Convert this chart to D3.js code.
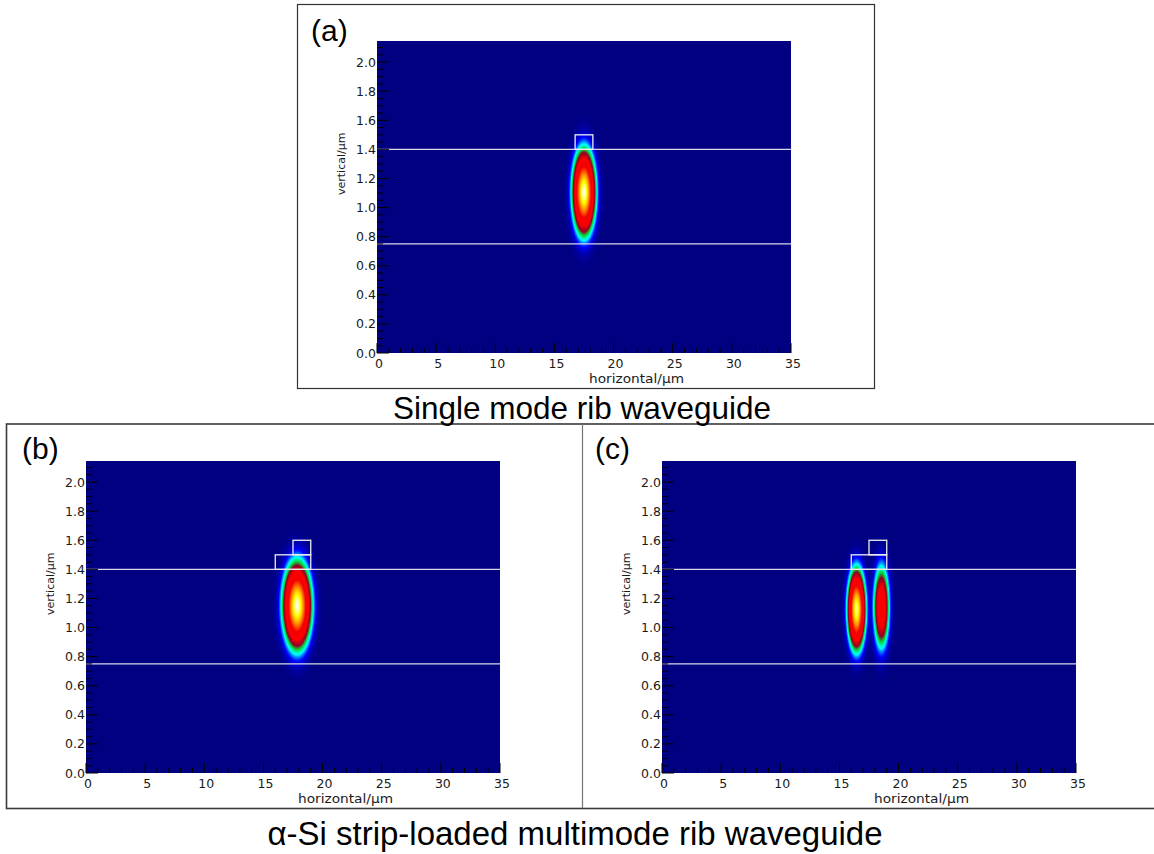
<!DOCTYPE html>
<html>
<head>
<meta charset="utf-8">
<script src="https://cdn.jsdelivr.net/npm/d3@7"></script>
<style>
  body { margin: 0; background: #fff; }
  svg { display: block; }
</style>
</head>
<body>
<svg id="fig" width="1154" height="854"></svg>
<script>
// ---- axis definitions (µm) ----
const xDomain = [0, 35];
const yDomain = [0, 2.145];
const xMajorTicks = [0, 5, 10, 15, 20, 25, 30, 35];
const yMajorTicks = [0, 0.2, 0.4, 0.6, 0.8, 1.0, 1.2, 1.4, 1.6, 1.8, 2.0];
const xTickLabels = ["0", "5", "10", "15", "20", "25", "30", "35"];
const yTickLabels = ["0.0", "0.2", "0.4", "0.6", "0.8", "1.0", "1.2", "1.4", "1.6", "1.8", "2.0"];

// ---- layer interfaces (vertical position, µm) ----
const layerLines = [0.75, 1.4];

// ---- waveguide outlines: [xLeft, xRight, yBottom, yTop] (µm) ----
const ribSingle = [[16.75, 18.25, 1.4, 1.5]];
const ribStripB = [[16.0, 19.0, 1.4, 1.5], [17.5, 19.0, 1.5, 1.6]];
const ribStripC = [[16.0, 19.0, 1.4, 1.5], [17.5, 19.0, 1.5, 1.6]];

// ---- mode intensity lobes: [xCentre, yCentre, xWidth, yWidth, peak] ----
const modeA = [[17.5, 1.105, 0.47, 0.14, 1.0]];
const modeB = [[17.85, 1.15, 0.58, 0.142, 1.0]];
const modeC = [[16.45, 1.125, 0.37, 0.133, 0.95], [18.55, 1.14, 0.35, 0.148, 0.38]];

// ---- colour map (normalised intensity -> colour) ----
const cmapStops  = [0, 0.025, 0.06, 0.10, 0.15, 0.25, 0.45, 0.68, 0.88, 1.0];
const cmapColors = ["#000080", "#0000ff", "#00ffff", "#00e040", "#900024", "#ff0000", "#f20000", "#ff9000", "#ffff00", "#ffffe0"];

// ---- panel layout ----
const panels = [
  { id: "a", left: 377, top: 41,  width: 414, height: 312, rib: ribSingle, mode: modeA, label: "(a)", lx: 311, ly: 41 },
  { id: "b", left: 86,  top: 461, width: 414, height: 312, rib: ribStripB, mode: modeB, label: "(b)", lx: 22,  ly: 459 },
  { id: "c", left: 662, top: 461, width: 414, height: 312, rib: ribStripC, mode: modeC, label: "(c)", lx: 595, ly: 459 }
];

const svg = d3.select("#fig");
const color = d3.scaleLinear().domain(cmapStops).range(cmapColors).interpolate(d3.interpolateRgb).clamp(true);

// frames around the panels
svg.append("rect").attr("x", 297.5).attr("y", 4.5).attr("width", 577).attr("height", 384)
  .attr("fill", "none").attr("stroke", "#333").attr("stroke-width", 1.2);
svg.append("rect").attr("x", 6.5).attr("y", 424).attr("width", 1160).attr("height", 384.5)
  .attr("fill", "none").attr("stroke", "#3a3a3a").attr("stroke-width", 1.6);
svg.append("line").attr("x1", 582.5).attr("x2", 582.5).attr("y1", 424).attr("y2", 808)
  .attr("stroke", "#777").attr("stroke-width", 1.2);

const tickFont = "'DejaVu Sans', sans-serif";
const captionFont = "'Liberation Sans', Arial, sans-serif";

function intensity(lobes, x, y) {
  let v = 0;
  for (const [cx, cy, sx, sy, a] of lobes) {
    const dx = (x - cx) / sx, dy = (y - cy) / sy;
    v += a * Math.exp(-0.5 * (dx * dx + dy * dy));
  }
  return v;
}

panels.forEach(p => {
  const x = d3.scaleLinear().domain(xDomain).range([p.left, p.left + p.width]);
  const y = d3.scaleLinear().domain(yDomain).range([p.top + p.height, p.top]);
  const g = svg.append("g").attr("class", "panel-" + p.id);

  // field map rendered pixel by pixel through the scales
  const canvas = document.createElement("canvas");
  canvas.width = p.width; canvas.height = p.height;
  const ctx = canvas.getContext("2d");
  const img = ctx.createImageData(p.width, p.height);
  for (let j = 0; j < p.height; j++) {
    const yv = y.invert(p.top + j + 0.5);
    for (let i = 0; i < p.width; i++) {
      const xv = x.invert(p.left + i + 0.5);
      const c = d3.rgb(color(Math.min(1, intensity(p.mode, xv, yv))));
      const k = (j * p.width + i) * 4;
      img.data[k] = c.r; img.data[k + 1] = c.g; img.data[k + 2] = c.b; img.data[k + 3] = 255;
    }
  }
  ctx.putImageData(img, 0, 0);
  g.append("image").attr("x", p.left).attr("y", p.top)
    .attr("width", p.width).attr("height", p.height)
    .attr("href", canvas.toDataURL());

  // layer interfaces
  g.selectAll("line.layer").data(layerLines).join("line").attr("class", "layer")
    .attr("x1", x(xDomain[0])).attr("x2", x(xDomain[1]))
    .attr("y1", d => y(d)).attr("y2", d => y(d))
    .attr("stroke", "#d8d8e8").attr("stroke-width", 1.2);

  // waveguide outlines
  g.selectAll("rect.rib").data(p.rib).join("rect").attr("class", "rib")
    .attr("x", d => x(d[0])).attr("y", d => y(d[3]))
    .attr("width", d => x(d[1]) - x(d[0])).attr("height", d => y(d[2]) - y(d[3]))
    .attr("fill", "none").attr("stroke", "#eeeeee").attr("stroke-width", 1.3);

  // inward ticks
  const xMinor = d3.range(0, 36, 1).filter(v => v % 5 !== 0);
  const yMinor = d3.range(0, 43).map(k => k * 0.05).filter(v => Math.abs(v * 5 - Math.round(v * 5)) > 1e-6);
  const bottom = y(0), left = x(0);
  g.selectAll("line.xmin").data(xMinor).join("line").attr("class", "xmin")
    .attr("x1", d => x(d)).attr("x2", d => x(d)).attr("y1", bottom).attr("y2", bottom - 5)
    .attr("stroke", "#000").attr("stroke-width", 1);
  g.selectAll("line.xmaj").data(xMajorTicks).join("line").attr("class", "xmaj")
    .attr("x1", d => x(d)).attr("x2", d => x(d)).attr("y1", bottom).attr("y2", bottom - 10)
    .attr("stroke", "#000").attr("stroke-width", 1);
  g.selectAll("line.ymin").data(yMinor).join("line").attr("class", "ymin")
    .attr("x1", left).attr("x2", left + 6).attr("y1", d => y(d)).attr("y2", d => y(d))
    .attr("stroke", "#000").attr("stroke-width", 1);
  g.selectAll("line.ymaj").data(yMajorTicks).join("line").attr("class", "ymaj")
    .attr("x1", left).attr("x2", left + 12).attr("y1", d => y(d)).attr("y2", d => y(d))
    .attr("stroke", "#000").attr("stroke-width", 1);

  // tick labels
  g.selectAll("text.xl").data(xMajorTicks).join("text").attr("class", "xl")
    .attr("x", d => x(d) + 2).attr("y", bottom + 15)
    .attr("text-anchor", "middle").attr("font-family", tickFont).attr("font-size", 12.5)
    .attr("fill", "#1a1a1a")
    .text((d, i) => xTickLabels[i]);
  g.selectAll("text.yl").data(yMajorTicks).join("text").attr("class", "yl")
    .attr("x", left - 1).attr("y", d => y(d) + 4.5)
    .attr("text-anchor", "end").attr("font-family", tickFont).attr("font-size", 12.5)
    .attr("fill", "#1a1a1a")
    .text((d, i) => yTickLabels[i]);

  // axis titles
  const cx = p.left + p.width / 2, cy = p.top + p.height / 2;
  g.append("text").attr("x", cx + 5).attr("y", bottom + 30)
    .attr("font-family", tickFont).attr("font-size", 12.5).attr("fill", "#1a1a1a")
    .attr("textLength", 95).attr("lengthAdjust", "spacingAndGlyphs")
    .text("horizontal/\u00b5m");
  g.append("text").attr("transform", `translate(${left - 32},${cy - 2}) rotate(-90)`)
    .attr("font-family", tickFont).attr("font-size", 11).attr("fill", "#1a1a1a")
    .text("vertical/\u00b5m");

  // panel label
  svg.append("text").attr("x", p.lx).attr("y", p.ly)
    .attr("font-family", captionFont).attr("font-size", 30).attr("fill", "#000")
    .text(p.label);
});

// captions
svg.append("text").attr("x", 582).attr("y", 419).attr("text-anchor", "middle")
  .attr("font-family", captionFont).attr("font-size", 31.5).attr("fill", "#000")
  .text("Single mode rib waveguide");
svg.append("text").attr("x", 575).attr("y", 845).attr("text-anchor", "middle")
  .attr("font-family", captionFont).attr("font-size", 33).attr("fill", "#000")
  .text("\u03b1-Si strip-loaded multimode rib waveguide");
</script>
</body>
</html>
